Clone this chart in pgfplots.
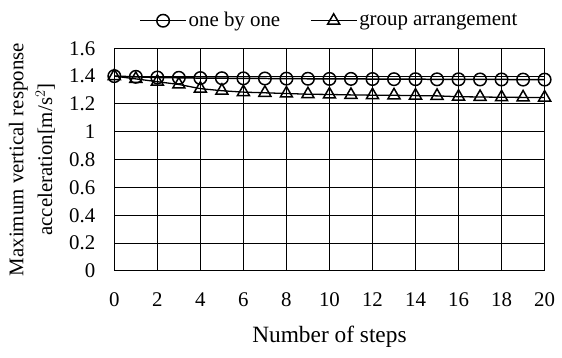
\documentclass[border={2pt 3pt 0pt 9pt}]{standalone}
\usepackage{fontspec}
\setmainfont{Liberation Serif}
\usepackage{pgfplots}
\pgfplotsset{compat=1.18}
\begin{document}
\fontsize{21}{27}\selectfont
\begin{tikzpicture}
\begin{axis}[
  scale only axis,
  width=433pt, height=224pt,
  xmin=0, xmax=20, ymin=0, ymax=1.6,
  xtick={0,2,...,20},
  ytick={0,0.2,...,1.6},
  yticklabel style={/pgf/number format/fixed,/pgf/number format/precision=1},
  /pgf/number format/assume math mode=true,
  grid=major,
  major grid style={black, line width=1pt},
  axis line style={black, line width=1pt},
  axis x line*=bottom, axis y line*=left,
  major tick length=0pt,
  tick label style={font=\fontsize{21}{27}\selectfont},
  xticklabel style={yshift=-15pt},
  yticklabel style={xshift=-12pt},
  xlabel={Number of steps},
  ylabel={Maximum vertical response\\acceleration[m/s$^2$]},
  ylabel style={align=center, font=\fontsize{21}{29}\selectfont, yshift=0pt},
  xlabel style={font=\fontsize{23.5}{27}\selectfont, yshift=-5pt},
  legend style={at={(0.5,1.07)}, anchor=south, draw=none, fill=none, legend columns=2, font=\fontsize{21}{27}\selectfont, inner sep=1pt, /tikz/every even column/.append style={column sep=28pt}},
  legend cell align=left,
  legend image code/.code={\draw[#1, line width=1.5pt, mark repeat=2, mark phase=2] plot coordinates {(0pt,0pt) (23pt,0pt) (46pt,0pt)};},
]
\addplot[black, line width=1.5pt, mark=o, mark size=6.3pt, mark options={line width=1.5pt, fill=none}] coordinates {
(0,1.40) (1,1.395) (2,1.39) (3,1.388) (4,1.386) (5,1.385) (6,1.384) (7,1.383) (8,1.382) (9,1.381) (10,1.380) (11,1.380) (12,1.379) (13,1.378) (14,1.378) (15,1.377) (16,1.377) (17,1.376) (18,1.376) (19,1.375) (20,1.375)};
\addlegendentry{one by one}
\addplot[black, line width=1.3pt, mark=triangle, mark size=7pt, mark options={line width=1.5pt, fill=none}] coordinates {
(0,1.40) (1,1.38) (2,1.36) (3,1.34) (4,1.31) (5,1.295) (6,1.285) (7,1.28) (8,1.275) (9,1.27) (10,1.268) (11,1.265) (12,1.263) (13,1.262) (14,1.26) (15,1.258) (16,1.252) (17,1.25) (18,1.248) (19,1.247) (20,1.246)};
\addlegendentry{group arrangement}
\end{axis}
\end{tikzpicture}
\end{document}
